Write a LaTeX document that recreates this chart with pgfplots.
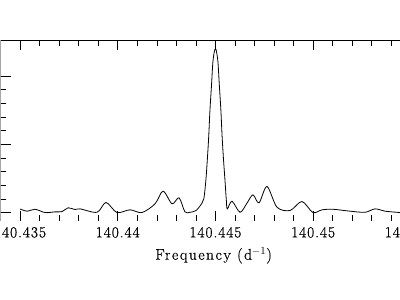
\documentclass[border=0pt]{standalone}
\usepackage{pgfplots}
\pgfplotsset{compat=1.18}
\usepackage{fontspec}
\newfontfamily\lsfont{Latin Modern Roman}[LetterSpace=6.0, FakeBold=0.6]
\newfontfamily\lblfont{Latin Modern Roman}[LetterSpace=10.0, FakeBold=0.6]
\begin{document}
\begin{tikzpicture}
\begin{axis}[
  at={(0.5bp,79bp)}, anchor=south west,
  scale only axis, width=410.3bp, height=181bp,
  xmin=-6, xmax=15, ymin=-0.62, ymax=12.65,
  xtick={-5,0,5,10,15},
  xticklabels={140.435,140.44,140.445,140.45,140.455},
  minor x tick num=4,
  ytick={0,5,10}, yticklabels={},
  minor y tick num=4,
  major tick length=10bp, minor tick length=5.5bp,
  tick style={black, line width=0.6pt},
  axis line style={draw=none},
  xticklabel style={font=\lsfont\fontsize{15.5}{18}\selectfont, yshift=-2.5bp},
  xlabel={Frequency (d$^{-1}$)},
  xlabel style={font=\lblfont\fontsize{15.5}{18}\selectfont, xshift=8bp, yshift=-3bp},
  /pgf/number format/assume math mode=true,
]
\addplot[black, line width=0.8pt, smooth, tension=0.5] coordinates {
(-5.00,0.26) (-4.64,0.10) (-4.23,0.24) (-3.72,0.00) (-3.21,0.05) (-2.85,0.07)
(-2.54,0.35) (-2.19,0.22) (-1.93,0.27) (-1.06,0.02) (-0.60,0.74) (-0.04,0.00)
(0.63,0.20) (1.24,0.00) (1.91,0.64) (2.32,1.57) (2.78,0.64) (3.14,1.08)
(3.44,0.05) (3.70,0.02) (4.01,0.15) (4.31,0.68) (4.41,1.03) (4.51,2.35)
(4.59,3.97) (4.66,5.66) (4.72,7.50) (4.80,9.34) (4.87,11.03) (4.95,11.84)
(5.00,12.00) (5.05,11.84) (5.13,11.03) (5.20,9.34) (5.28,7.50) (5.34,5.66)
(5.41,3.97) (5.49,2.35) (5.56,0.88) (5.61,0.27) (5.85,0.83) (6.26,0.02)
(6.62,0.70) (6.92,1.30) (7.23,0.71) (7.64,1.91) (8.15,0.39) (8.82,0.15)
(9.43,0.81) (9.99,0.00) (10.46,0.20) (11.02,0.24) (11.89,0.10) (12.66,0.02)
(13.17,0.27) (13.68,0.10) (14.45,0.00)
};
\draw[black, line width=0.6pt] (rel axis cs:0,0) -- (rel axis cs:0,1) -- (rel axis cs:1,1);
\end{axis}
\pgfresetboundingbox
\useasboundingbox (0,0) rectangle (400bp,300bp);
\end{tikzpicture}
\end{document}
